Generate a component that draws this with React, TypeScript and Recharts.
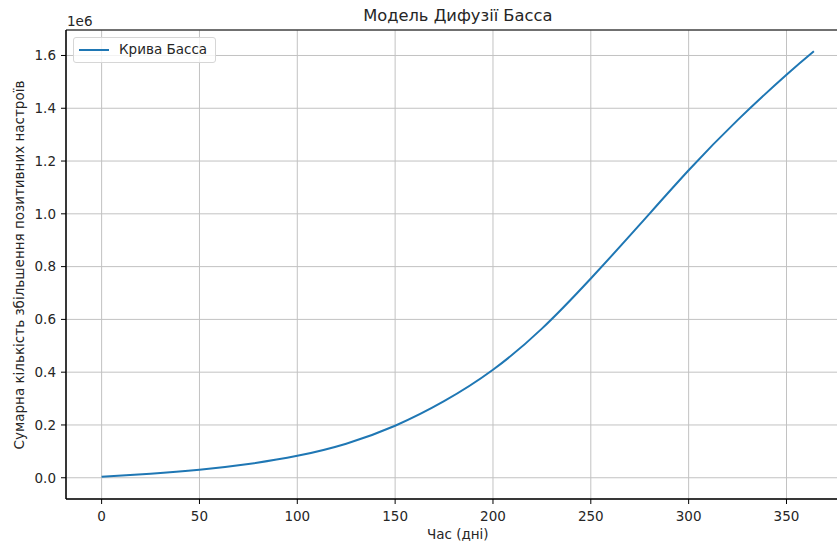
import React from 'react';
import { LineChart, Line, XAxis, YAxis, CartesianGrid, ReferenceArea } from 'recharts';

// Bass diffusion curve, cumulative count of positive moods per day
const days = [0, 25, 50, 75, 100, 125, 150, 175, 200, 225, 250, 275, 300, 325, 350, 364];
const cumulative = [
  4000, 15000, 30000, 52000, 83000, 129000, 197000, 290000, 409000,
  565000, 755000, 959000, 1165000, 1355000, 1527000, 1616000,
];

const xTicks = [0, 50, 100, 150, 200, 250, 300, 350];
const yTicks = [0, 200000, 400000, 600000, 800000, 1000000, 1200000, 1400000, 1600000];

const xDomain: [number, number] = [-18.2, 382.2];
const yDomain: [number, number] = [-80500, 1696500];

const FONT = '"DejaVu Sans", sans-serif';
const TEXT = '#262626';

const chartData = days.map((d, i) => ({ day: d, value: cumulative[i] }));

export default function App() {
  return (
    <div
      style={{
        position: 'fixed',
        left: 0,
        top: 0,
        width: 837,
        height: 545,
        overflow: 'hidden',
        background: '#fff',
        fontFamily: FONT,
        color: TEXT,
      }}
    >
      <div style={{ position: 'relative', width: 860, height: 545 }}>
        <LineChart
          width={860}
          height={545}
          data={chartData}
          margin={{ top: 30, right: 10.5, bottom: 6, left: 8 }}
        >
          <CartesianGrid stroke="#c2c2c2" strokeWidth={1} />
          <XAxis
            dataKey="day"
            type="number"
            domain={xDomain}
            ticks={xTicks}
            allowDataOverflow
            height={40}
            tickSize={5}
            tickMargin={7}
            axisLine={{ stroke: '#000' }}
            tickLine={{ stroke: '#000' }}
            tick={{ fill: TEXT, fontSize: 13.5, fontFamily: FONT }}
          />
          <YAxis
            type="number"
            domain={yDomain}
            ticks={yTicks}
            allowDataOverflow
            width={58}
            tickSize={5}
            tickMargin={5}
            axisLine={{ stroke: '#000' }}
            tickLine={{ stroke: '#000' }}
            tick={{ fill: TEXT, fontSize: 13.5, fontFamily: FONT }}
            tickFormatter={(v: number) => (v / 1e6).toFixed(1)}
          />
          <ReferenceArea
            x1={xDomain[0]}
            x2={xDomain[1]}
            y1={yDomain[0]}
            y2={yDomain[1]}
            fill="none"
            stroke="#000"
            strokeWidth={1}
          />
          <Line
            type="natural"
            dataKey="value"
            stroke="#1f77b4"
            strokeWidth={2}
            dot={false}
            activeDot={false}
            isAnimationActive={false}
          />
        </LineChart>

        {/* title */}
        <div
          style={{
            position: 'absolute',
            left: 457.8,
            top: 8,
            transform: 'translateX(-50%)',
            fontSize: 16.3,
            lineHeight: 1,
            whiteSpace: 'nowrap',
          }}
        >
          Модель Дифузії Басса
        </div>

        {/* scale factor for the y axis */}
        <div style={{ position: 'absolute', left: 67, top: 15.4, fontSize: 13.5, lineHeight: 1 }}>
          1e6
        </div>

        {/* x axis label */}
        <div
          style={{
            position: 'absolute',
            left: 457.8,
            top: 528.4,
            transform: 'translateX(-50%)',
            fontSize: 13.5,
            lineHeight: 1,
            whiteSpace: 'nowrap',
          }}
        >
          Час (дні)
        </div>

        {/* y axis label */}
        <div
          style={{
            position: 'absolute',
            left: 19.5,
            top: 264.5,
            transform: 'translate(-50%, -50%) rotate(-90deg)',
            fontSize: 13.5,
            lineHeight: 1,
            whiteSpace: 'nowrap',
          }}
        >
          Сумарна кількість збільшення позитивних настроїв
        </div>

        {/* legend */}
        <div
          style={{
            position: 'absolute',
            left: 73,
            top: 37,
            width: 143,
            height: 26,
            boxSizing: 'border-box',
            border: '1px solid #d6d6d6',
            borderRadius: 3,
            background: 'rgba(255,255,255,0.8)',
            display: 'flex',
            alignItems: 'center',
          }}
        >
          <div style={{ marginLeft: 5, width: 30, height: 2, background: '#1f77b4' }} />
          <span style={{ marginLeft: 10, fontSize: 13.5, lineHeight: 1, whiteSpace: 'nowrap' }}>
            Крива Басса
          </span>
        </div>
      </div>
    </div>
  );
}
